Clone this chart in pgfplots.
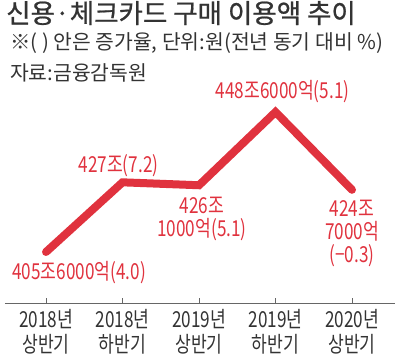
\documentclass[border=0pt]{standalone}
\usepackage{fontspec}
\setmainfont{Noto Sans CJK KR}
\newfontfamily\cond[FakeStretch=0.78]{Noto Sans CJK KR}
\newfontfamily\titlefont[FakeBold=0.8]{Noto Sans CJK KR}
\usepackage{pgfplots}
\pgfplotsset{compat=1.18}
\definecolor{lred}{HTML}{E0323E}
\definecolor{dgray}{HTML}{333333}
\definecolor{agray}{HTML}{666666}
\begin{document}
\begin{tikzpicture}[x=1pt,y=1pt]
\useasboundingbox (0,0) rectangle (400,356);
\begin{axis}[
  at={(5pt,52pt)}, anchor=south west,
  scale only axis, width=390pt, height=304pt,
  xmin=-0.536, xmax=4.562, ymin=389.63, ymax=483.0,
  axis x line*=bottom, axis y line=none,
  axis line style={draw=agray, line width=1pt, -},
  xtick={0,1,2,3,4},
  xticklabels={{2018년\\상반기},{2018년\\하반기},{2019년\\상반기},{2019년\\하반기},{2020년\\상반기}},
  xtick align=inside, major tick length=6pt,
  xtick style={draw=agray, line width=1pt},
  xticklabel style={font=\cond\fontsize{22}{25}\selectfont, text=dgray, align=center, anchor=north, yshift=-2pt},
  clip=false,
]
\addplot[lred, line width=8pt, line cap=round, line join=miter] coordinates {(0,405.6) (1,427.0) (2,426.1) (3,448.6) (4,424.7)};
\node[text=lred, font=\cond\fontsize{22}{23}\selectfont, inner sep=0, xshift=33pt, yshift=-21pt] at (axis cs:0,405.6) {405조6000억(4.0)};
\node[text=lred, font=\cond\fontsize{22}{23}\selectfont, inner sep=0, xshift=-4pt, yshift=17pt] at (axis cs:1,427.0) {427조(7.2)};
\node[text=lred, font=\cond\fontsize{22}{23}\selectfont, inner sep=0, align=center, xshift=3pt, yshift=-33.5pt] at (axis cs:2,426.1) {426조\\1000억(5.1)};
\node[text=lred, font=\cond\fontsize{22}{23}\selectfont, inner sep=0, xshift=7pt, yshift=20pt] at (axis cs:3,448.6) {448조6000억(5.1)};
\node[text=lred, font=\cond\fontsize{22}{23}\selectfont, inner sep=0, align=center, yshift=-43.5pt] at (axis cs:4,424.7) {424조\\7000억\\(−0.3)};
\end{axis}
\node[anchor=base west, inner sep=0, text=dgray, font=\titlefont\fontsize{26.5}{30}\selectfont] at (6,333) {신용·체크카드 구매 이용액 추이};
\node[anchor=base west, inner sep=0, text=dgray, font=\fontsize{20.4}{24}\selectfont] at (10,306) {※( ) 안은 증가율, 단위:원(전년 동기 대비 \%)};
\node[anchor=base west, inner sep=0, text=dgray, font=\fontsize{20.4}{24}\selectfont] at (10,275) {자료:금융감독원};
\end{tikzpicture}
\end{document}
